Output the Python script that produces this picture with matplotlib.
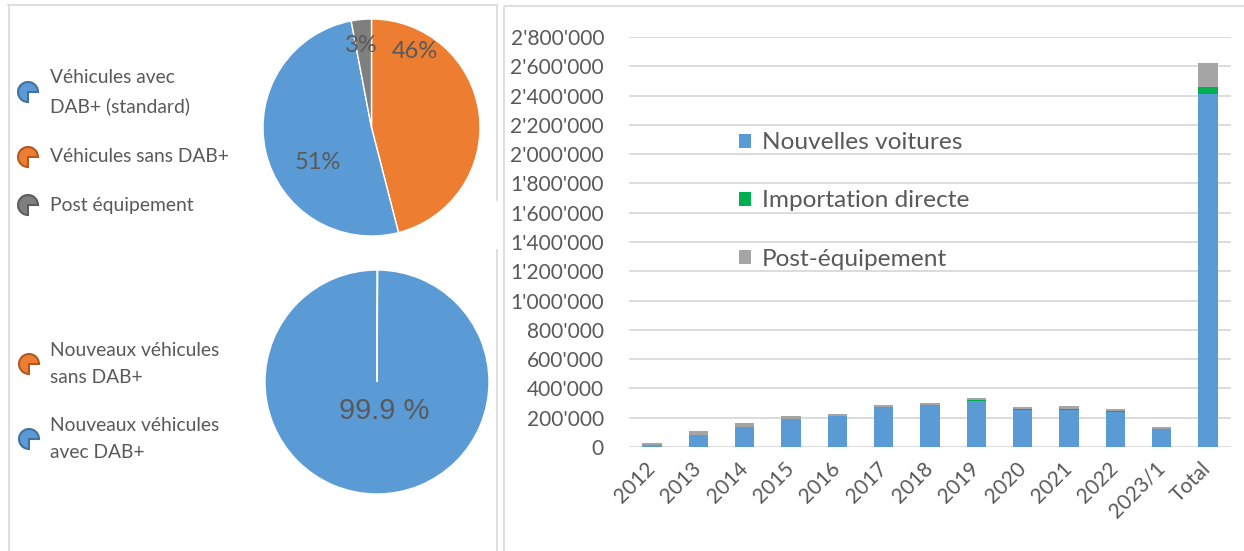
import matplotlib
matplotlib.use('Agg')
import matplotlib.pyplot as plt
from matplotlib.patches import Wedge, Rectangle, Patch

plt.rcParams['font.family'] = ['Lato', 'DejaVu Sans']

# Pie 1 data (drawing order: clockwise from 12 o'clock)
pie1_labels = ['Véhicules sans DAB+', 'Véhicules avec\nDAB+ (standard)', 'Post équipement']
pie1_values = [46, 51, 3]
pie1_colors = ['#ED7D31', '#5B9BD5', '#7F7F7F']
pie1_legend_order = [1, 0, 2]

# Pie 2 data
pie2_labels = ['Nouveaux véhicules\nsans DAB+', 'Nouveaux véhicules\navec DAB+']
pie2_values = [0.1, 99.9]
pie2_colors = ['#ED7D31', '#5B9BD5']

# Bar data
years = ['2012', '2013', '2014', '2015', '2016', '2017', '2018', '2019',
         '2020', '2021', '2022', '2023/1', 'Total']
new_cars = [14000, 85000, 138000, 189000, 209000, 271000, 285000, 313000,
            255000, 255000, 241000, 120000, 2410000]
direct_import = [0, 0, 0, 2000, 6000, 5000, 5000, 11000,
                 3000, 4000, 5000, 2000, 50000]
retrofit = [14000, 21000, 25000, 23000, 13000, 11000, 11000, 12000,
            16000, 21000, 14000, 14000, 160000]
bar_labels = ['Nouvelles voitures', 'Importation directe', 'Post-équipement']
bar_colors = ['#5B9BD5', '#00B050', '#A5A5A5']

txt = '#595959'
W, H = 1244, 551
fig = plt.figure(figsize=(W / 100, H / 100), dpi=100)

# overlay in pixel coords for panel frames and pie legends
bg = fig.add_axes([0, 0, 1, 1])
bg.set_xlim(0, W)
bg.set_ylim(H, 0)
bg.axis('off')
frame = dict(color='#D9D9D9', lw=1.2)
bg.plot([9, 9], [5, 560], **frame)
bg.plot([8, 497], [5, 5], **frame)
bg.plot([497, 497], [5, 200], **frame)
bg.plot([497, 497], [250, 560], **frame)
bg.add_patch(Rectangle((504, 6), 800, 600, fill=False, edgecolor='#D9D9D9', lw=1.2))

edge_dark = {'#5B9BD5': '#41719C', '#ED7D31': '#AE5A21', '#7F7F7F': '#5E5E5E'}


def legend_icon(x, y, color):
    bg.add_patch(Wedge((x, y), 10, 90, 360, facecolor=color,
                       edgecolor=edge_dark[color], lw=1.5))


# Pie 1
ax1 = fig.add_axes([263 / W, (H - 236) / H, 217 / W, 217 / H])
ax1.pie(pie1_values, colors=pie1_colors, startangle=90, counterclock=False,
        wedgeprops=dict(edgecolor='white', linewidth=1))
ax1.set_xlim(-1, 1)
ax1.set_ylim(-1, 1)
label_pos = [(0.40, 0.70), (-0.49, -0.32), (-0.09, 0.76)]
for v, (lx, ly) in zip(pie1_values, label_pos):
    ax1.text(lx, ly, f'{v}%', ha='center', va='center', fontsize=17, color=txt)

legend1_y = [92, 157, 205]
for i, y in zip(pie1_legend_order, legend1_y):
    legend_icon(28, y, pie1_colors[i])
    bg.text(50, y, pie1_labels[i], ha='left', va='center', fontsize=13.9,
            color=txt, linespacing=1.72)

# Pie 2
ax2 = fig.add_axes([265 / W, (H - 494) / H, 224 / W, 224 / H])
ax2.pie(pie2_values, colors=pie2_colors, startangle=90, counterclock=False,
        wedgeprops=dict(edgecolor='white', linewidth=1))
ax2.set_xlim(-1, 1)
ax2.set_ylim(-1, 1)
ax2.text(0.06, -0.26, f'{pie2_values[1]} %', ha='center', va='center',
         fontsize=21, color=txt, family=['Liberation Sans', 'DejaVu Sans'])

legend2_y = [364, 439]
for lab, col, y in zip(pie2_labels, pie2_colors, legend2_y):
    legend_icon(29, y, col)
    bg.text(50, y, lab, ha='left', va='center', fontsize=13.9, color=txt,
            linespacing=1.72)

# Stacked bars
ax3 = fig.add_axes([629 / W, (H - 447) / H, 602 / W, 410 / H])
x = range(len(years))
bottom2 = [a + b for a, b in zip(new_cars, direct_import)]
ax3.bar(x, new_cars, width=0.42, color=bar_colors[0], zorder=3)
ax3.bar(x, direct_import, width=0.42, bottom=new_cars, color=bar_colors[1], zorder=3)
ax3.bar(x, retrofit, width=0.42, bottom=bottom2, color=bar_colors[2], zorder=3)
ax3.set_xlim(-0.5, len(years) - 0.5)
ax3.set_ylim(0, 2800000)
ax3.set_yticks(range(0, 2800001, 200000))
ax3.set_yticklabels([f'{v:,}'.replace(',', "'") for v in range(0, 2800001, 200000)])
ax3.grid(axis='y', color='#D9D9D9', lw=1.3, zorder=0)
for s in ax3.spines.values():
    s.set_visible(False)
ax3.tick_params(length=0, labelsize=15, colors=txt, pad=18)
ax3.tick_params(axis='x', pad=13)
ax3.set_xticks(list(x))
ax3.set_xticklabels(years, rotation=45, ha='right', va='center', rotation_mode='anchor')

handles = [Patch(facecolor=c) for c in bar_colors]
ax3.legend(handles, bar_labels, loc='upper left', bbox_to_anchor=(727 / W, (H - 120) / H),
           bbox_transform=fig.transFigure, frameon=False, fontsize=17.6,
           labelcolor=txt, handlelength=0.5, handleheight=0.5,
           handletextpad=0.42, labelspacing=1.52, borderpad=0)

fig.savefig('out.png', dpi=100)
